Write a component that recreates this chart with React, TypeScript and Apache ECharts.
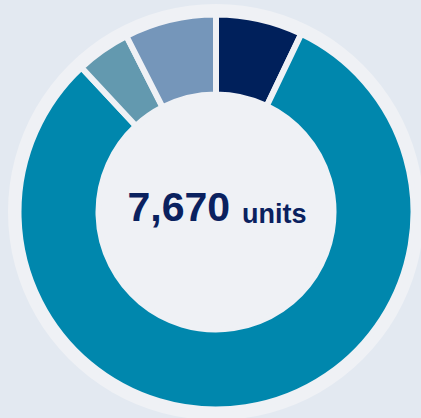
import React, { useEffect, useRef } from "react";
import * as echarts from "echarts";

const categories = ["Segment A", "Segment B", "Segment C", "Segment D"];
const values = [545, 6210, 340, 575];
const colors = ["#00205B", "#0087AD", "#6399AF", "#7596BA"];
const totalLabel = "7,670";
const unitLabel = "units";

export default function App() {
  const ref = useRef<HTMLDivElement>(null);
  useEffect(() => {
    document.body.style.margin = "0";
    const chart = echarts.init(ref.current!, null, { renderer: "svg" });
    chart.setOption({
      animation: false,
      backgroundColor: "#E3E9F1",
      title: {
        text: `{a|${totalLabel}}{b|${unitLabel}}`,
        left: 212,
        top: 181,
        textAlign: "center",
        textStyle: {
          rich: {
            a: {
              fontFamily: "Liberation Sans",
              fontWeight: "bold",
              fontSize: 41,
              color: "#0A215F",
              verticalAlign: "bottom",
            },
            b: {
              fontFamily: "Liberation Sans",
              fontWeight: "bold",
              fontSize: 27,
              color: "#0A215F",
              verticalAlign: "bottom",
              padding: [0, 0, 0, 12],
            },
          },
        },
      },
      series: [
        {
          type: "pie",
          silent: true,
          center: [216, 212],
          radius: [0, 208],
          label: { show: false },
          itemStyle: { color: "#EFF1F5" },
          data: [{ value: 1, name: "bg" }],
          z: 1,
        },
        {
          type: "pie",
          center: [216, 212],
          radius: [117.5, 197.5],
          startAngle: 90,
          clockwise: true,
          label: { show: false },
          labelLine: { show: false },
          itemStyle: { borderColor: "#EFF1F5", borderWidth: 6 },
          emphasis: { disabled: true },
          data: categories.map((c, i) => ({
            name: c,
            value: values[i],
            itemStyle: { color: colors[i] },
          })),
          z: 2,
        },
      ],
    });
    return () => chart.dispose();
  }, []);
  return (
    <div
      ref={ref}
      style={{ position: "fixed", left: 0, top: 0, width: 421, height: 418 }}
    />
  );
}
